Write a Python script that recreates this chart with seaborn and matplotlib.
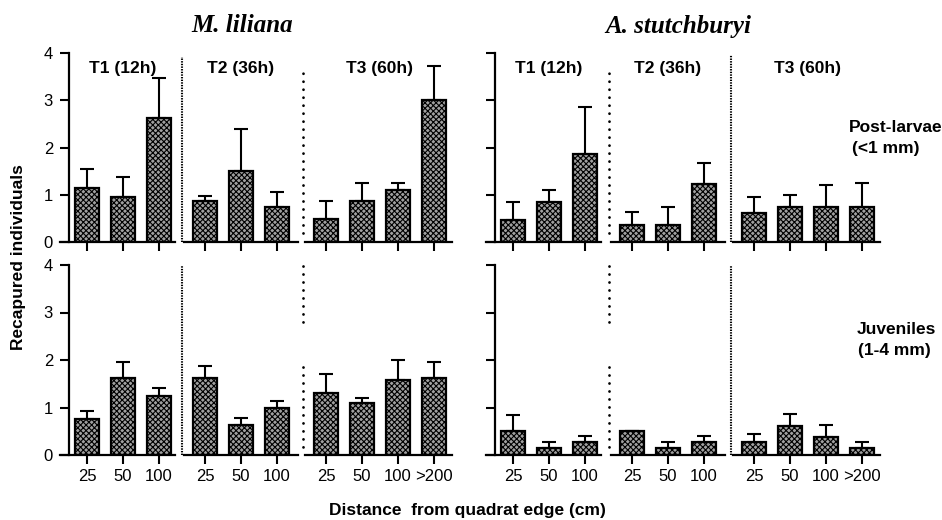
import numpy as np
import pandas as pd
import matplotlib
matplotlib.use("Agg")
import matplotlib.pyplot as plt
import matplotlib.transforms as mtransforms
import seaborn as sns

# ---------------- data ----------------
species = ["M. liliana", "A. stutchburyi"]
stages = ["Post-larvae", "Juveniles"]
stage_sizes = ["(<1 mm)", "(1-4 mm)"]
groups = ["T1 (12h)", "T2 (36h)", "T3 (60h)"]
dist_t1 = ["25", "50", "100"]
dist_t2 = ["25", "50", "100"]
dist_t3 = ["25", "50", "100", ">200"]

# means and upper end of error bar (mean + SE)
ml_post_mean = [[1.14, 0.96, 2.62], [0.86, 1.50, 0.74], [0.48, 0.86, 1.10, 3.00]]
ml_post_top = [[1.54, 1.37, 3.47], [0.98, 2.40, 1.06], [0.86, 1.24, 1.24, 3.72]]
as_post_mean = [[0.47, 0.85, 1.87], [0.36, 0.36, 1.23], [0.61, 0.74, 0.74, 0.74]]
as_post_top = [[0.85, 1.10, 2.85], [0.63, 0.74, 1.68], [0.95, 1.00, 1.20, 1.24]]
ml_juv_mean = [[0.75, 1.63, 1.24], [1.63, 0.64, 1.00], [1.30, 1.10, 1.58, 1.63]]
ml_juv_top = [[0.92, 1.96, 1.41], [1.88, 0.77, 1.13], [1.71, 1.21, 2.00, 1.96]]
as_juv_mean = [[0.51, 0.15, 0.28], [0.51, 0.15, 0.28], [0.27, 0.62, 0.38, 0.14]]
as_juv_top = [[0.85, 0.28, 0.41], [0.51, 0.28, 0.41], [0.44, 0.86, 0.63, 0.28]]

y_ticks = [0, 1, 2, 3, 4]

# ---------------- style ----------------
sns.set_style("ticks")
plt.rcParams["font.family"] = ["Liberation Sans", "DejaVu Sans"]
plt.rcParams["text.color"] = "black"
plt.rcParams["axes.labelcolor"] = "black"
plt.rcParams["xtick.color"] = "black"
plt.rcParams["ytick.color"] = "black"
plt.rcParams["axes.edgecolor"] = "black"
plt.rcParams["hatch.color"] = "#111111"
plt.rcParams["hatch.linewidth"] = 0.8
plt.rcParams["lines.scale_dashes"] = False

W, H = 942, 520
fig = plt.figure(figsize=(W / 100, H / 100), dpi=100)

PX = 36.0  # pixels per category unit
dists = [dist_t1, dist_t2, dist_t3]
xlims = [(-0.75, 2.45), (-0.58, 2.58), (-0.58, 3.5)]
first_bar_px = [[87, 205, 326], [513, 632, 754]]  # layout: bar-0 pixel per group
row_px = [(53, 242), (265, 455)]  # (y=4, y=0) pixel rows

means = {(0, 0): ml_post_mean, (0, 1): as_post_mean, (1, 0): ml_juv_mean, (1, 1): as_juv_mean}
tops = {(0, 0): ml_post_top, (0, 1): as_post_top, (1, 0): ml_juv_top, (1, 1): as_juv_top}

dense = (0, (1.0, 0.9))
sparse = (0, (0.05, 5.7))
# separators: (row, species, before-group) -> (style, [(y0, y1), ...])
seps = {
    (0, 0, 1): (dense, [(0, 3.92)]),
    (0, 0, 2): (sparse, [(0.2, 3.62)]),
    (1, 0, 1): (dense, [(0, 3.97)]),
    (1, 0, 2): (sparse, [(1.86, 0.06), (3.97, 2.72)]),
    (0, 1, 1): (sparse, [(0.2, 3.6)]),
    (0, 1, 2): (dense, [(0, 3.95)]),
    (1, 1, 1): (sparse, [(1.86, 0.06), (3.97, 2.72)]),
    (1, 1, 2): (dense, [(0, 3.97)]),
}

LW = 1.6
for r in range(2):
    ytop, ybot = row_px[r]
    for s in range(2):
        for g in range(3):
            x0, x1 = xlims[g]
            left_px = first_bar_px[s][g] + x0 * PX
            width_px = (x1 - x0) * PX
            ax = fig.add_axes([left_px / W, 1 - ybot / H, width_px / W, (ybot - ytop) / H])
            m = means[(r, s)][g]
            t = tops[(r, s)][g]
            df = pd.DataFrame({"distance": dists[g], "mean": m})
            sns.barplot(data=df, x="distance", y="mean", ax=ax, color="#a0a0a0",
                        edgecolor="black", linewidth=LW, width=0.66, hatch="xxxxxx",
                        errorbar=None, zorder=2)
            err_up = np.array(t) - np.array(m)
            ax.errorbar(np.arange(len(m)), m, yerr=[np.zeros(len(m)), err_up],
                        fmt="none", ecolor="black", elinewidth=1.5, capsize=4.7,
                        capthick=1.5, zorder=1)
            ax.set_xlim(x0, x1)
            ax.set_ylim(0, 4)
            ax.set_xlabel("")
            ax.set_ylabel("")
            ax.patch.set_alpha(0)
            for sp in ["top", "right"]:
                ax.spines[sp].set_visible(False)
            ax.spines["bottom"].set_linewidth(LW)
            ax.tick_params(axis="x", direction="out", length=6.5, width=1.5,
                           labelsize=12, pad=3.5, labelbottom=(r == 1))
            if g == 0:
                ax.spines["left"].set_position(("data", -0.5))
                ax.spines["left"].set_linewidth(LW)
                ax.set_yticks(y_ticks)
                ax.tick_params(axis="y", direction="out", length=6.5, width=1.5,
                               labelsize=12, pad=5, labelleft=(s == 0))
            else:
                ax.spines["left"].set_visible(False)
                ax.set_yticks([])
                style, segs = seps[(r, s, g)]
                trans = mtransforms.blended_transform_factory(ax.transAxes, ax.transData)
                xs = -2.5 / width_px
                for (ya, yb) in segs:
                    ax.plot([xs, xs], [ya, yb], transform=trans, color="black",
                            lw=2.0 if style is sparse else 1.5, linestyle=style,
                            clip_on=False, dash_capstyle="round" if style is sparse else "butt")
            if r == 0:
                ax.text((len(m) - 1) / 2, 3.68, groups[g], ha="center", va="center",
                        fontsize=12.5, fontweight="bold")

# species titles
fig.text(242 / W, 1 - 26 / H, species[0], ha="center", va="center", fontsize=18,
         fontweight="bold", fontstyle="italic", family="Liberation Serif")
fig.text(678 / W, 1 - 26 / H, species[1], ha="center", va="center", fontsize=18,
         fontweight="bold", fontstyle="italic", family="Liberation Serif")

# row labels
fig.text(849 / W, 1 - 127 / H, stages[0], ha="left", va="center", fontsize=12.5,
         fontweight="bold")
fig.text(886 / W, 1 - 148 / H, stage_sizes[0], ha="center", va="center", fontsize=12.5,
         fontweight="bold")
fig.text(896 / W, 1 - 329 / H, stages[1], ha="center", va="center", fontsize=12.5,
         fontweight="bold")
fig.text(894 / W, 1 - 350 / H, stage_sizes[1], ha="center", va="center", fontsize=12.5,
         fontweight="bold")

# axis labels
fig.text(19 / W, 1 - 257 / H, "Recapured individuals", rotation=90, ha="center",
         va="center", fontsize=12.5, fontweight="bold")
fig.text(467 / W, 1 - 510 / H, "Distance  from quadrat edge (cm)", ha="center",
         va="center", fontsize=12.5, fontweight="bold")

fig.savefig("out.png", dpi=100)
